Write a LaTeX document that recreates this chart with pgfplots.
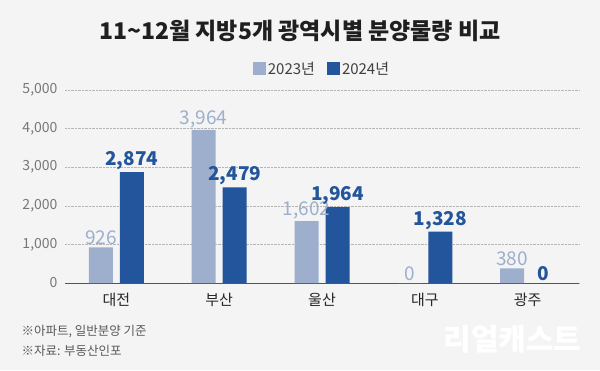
\documentclass[border=0pt]{standalone}
\usepackage{fontspec}
\setmainfont{Noto Sans CJK KR}
\usepackage{pgfplots}
\pgfplotsset{compat=1.18}
\definecolor{bg}{HTML}{F4F4F4}
\definecolor{c23}{HTML}{9DAFCD}
\definecolor{c24}{HTML}{22559B}
\definecolor{tickgray}{HTML}{777777}
\definecolor{gridgray}{HTML}{B5B5B5}
\definecolor{axisgray}{HTML}{555555}
\begin{document}
\begin{tikzpicture}[x=1pt,y=1pt]
\fill[bg] (0,0) rectangle (600,370);
\node[font=\fontsize{23}{23}\selectfont\bfseries, text=black!88] at (300,339) {11\textasciitilde 12월 지방5개 광역시별 분양물량 비교};
\node[font=\fontsize{12.5}{15}\selectfont, text=black!65, anchor=west] at (18,38) {※아파트, 일반분양 기준};
\node[font=\fontsize{12.5}{15}\selectfont, text=black!65, anchor=west] at (18,19) {※자료: 부동산인포};
\node[font=\fontsize{30}{30}\selectfont\bfseries, text=white, anchor=east] at (585,31) {리얼캐스트};
\begin{axis}[
  at={(65pt,87pt)}, anchor=south west,
  scale only axis, width=514pt, height=193pt,
  ybar=7pt, bar width=24pt,
  xmin=-0.5, xmax=4.5, ymin=0, ymax=5000,
  xtick={0,1,2,3,4},
  xticklabels={대전,부산,울산,대구,광주},
  ytick={0,1000,2000,3000,4000,5000},
  ymajorgrids,
  grid style={densely dotted, gridgray, line width=0.6pt},
  axis lines*=left,
  y axis line style={draw=none},
  x axis line style={draw=axisgray, line width=1pt},
  tick style={draw=none},
  /pgf/number format/assume math mode=true,
  /pgf/number format/1000 sep={,},
  yticklabel style={font=\fontsize{14}{14}\selectfont, text=tickgray, xshift=-4pt},
  xticklabel style={font=\fontsize{15}{15}\selectfont, text=black!85, yshift=-2pt},
  legend style={at={(0.5,1)}, anchor=south, yshift=10pt, draw=none, fill=none,
    font=\fontsize{15}{15}\selectfont, text=black!75, legend columns=2,
    /tikz/every even column/.append style={column sep=10pt}},
  legend image code/.code={\fill[#1] (0pt,-6.5pt) rectangle (13pt,6.5pt);},
  nodes near coords,
  every node near coord/.append style={font=\fontsize{19}{19}\selectfont, inner sep=2pt},
  clip=false,
]
\addplot[fill=c23, draw=none, every node near coord/.append style={text=c23}]
  coordinates {(0,926) (1,3964) (2,1602) (3,0) (4,380)};
\addplot[fill=c24, draw=none, every node near coord/.append style={text=c24, font=\fontsize{19}{19}\selectfont\bfseries}]
  coordinates {(0,2874) (1,2479) (2,1964) (3,1328) (4,0)};
\legend{2023년, 2024년}
\end{axis}
\end{tikzpicture}
\end{document}
